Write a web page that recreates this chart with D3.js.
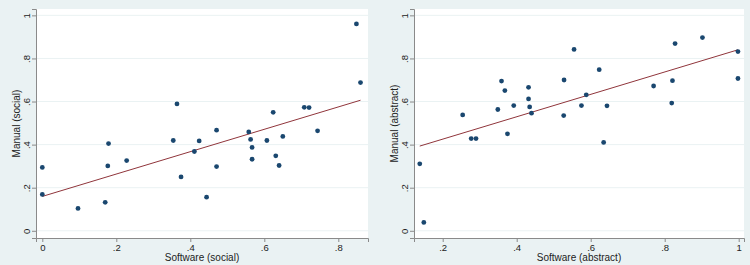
<!DOCTYPE html>
<html><head><meta charset="utf-8">
<script src="https://cdn.jsdelivr.net/npm/d3@7"></script>
<style>body{margin:0;background:#eaf2f3;}svg{display:block;font-family:"Liberation Sans",Arial,sans-serif;}</style>
</head><body><svg id="c" width="750" height="265"></svg>
<script>
const socialX = [0.849,0.860,0.364,0.624,0.708,0.721,0.471,0.558,0.744,0,0,0.0965,0.170,0.177,0.179,0.228,0.354,0.375,0.411,0.424,0.444,0.471,0.563,0.567,0.567,0.607,0.631,0.640,0.650];
const socialY = [0.960,0.688,0.589,0.550,0.573,0.572,0.467,0.459,0.464,0.294,0.169,0.104,0.132,0.301,0.405,0.326,0.419,0.250,0.368,0.417,0.156,0.298,0.424,0.387,0.332,0.419,0.348,0.303,0.438];
const abstractX = [0.254,0.359,0.368,0.349,0.392,0.432,0.432,0.435,0.440,0.528,0.527,0.555,0.575,0.588,0.623,0.644,0.770,0.821,0.819,0.828,0.902,0.998,0.998,0.138,0.149,0.277,0.290,0.375,0.635];
const abstractY = [0.538,0.695,0.651,0.563,0.581,0.666,0.612,0.575,0.546,0.700,0.535,0.842,0.581,0.631,0.748,0.580,0.672,0.697,0.593,0.869,0.897,0.832,0.707,0.311,0.039,0.428,0.428,0.450,0.410];
const yTicks = [0,0.2,0.4,0.6,0.8,1];
const yTickLabels = ["0",".2",".4",".6",".8","1"];
const socialXTicks = [0,0.2,0.4,0.6,0.8];
const socialXTickLabels = ["0",".2",".4",".6",".8"];
const abstractXTicks = [0.2,0.4,0.6,0.8,1];
const abstractXTickLabels = [".2",".4",".6",".8","1"];

const svg = d3.select("#c");
function panel(cfg){
  const g = svg.append("g");
  const x = d3.scaleLinear().domain(cfg.xdom).range([cfg.left, cfg.right]);
  const y = d3.scaleLinear().domain([-0.0335, 1.0295]).range([238, 9]);
  g.append("rect").attr("x",cfg.left).attr("y",9).attr("width",cfg.right-cfg.left).attr("height",229).attr("fill","#fff");
  g.selectAll(".grid").data(yTicks).join("line")
    .attr("x1",cfg.left).attr("x2",cfg.right).attr("y1",d=>y(d)).attr("y2",d=>y(d))
    .attr("stroke","#eaf2f3").attr("stroke-width",1);
  const fmtY = d=>yTickLabels[yTicks.indexOf(d)];
  const ya = g.append("g").attr("transform",`translate(${cfg.left},0)`)
    .call(d3.axisLeft(y).tickValues(yTicks).tickFormat(fmtY).tickSize(4).tickPadding(3));
  ya.select(".domain").attr("stroke","#8a8a8a");
  ya.selectAll(".tick line").attr("stroke","#8a8a8a");
  ya.selectAll(".tick text").attr("font-size","9.5px").attr("fill","#222")
    .attr("transform","rotate(-90)").attr("x",0).attr("y",-6).attr("dy","0").attr("text-anchor","middle")
    .attr("dominant-baseline","auto");
  const xa = g.append("g").attr("transform",`translate(0,238)`)
    .call(d3.axisBottom(x).tickValues(cfg.xticks).tickFormat(d=>cfg.xlabels[cfg.xticks.indexOf(d)]).tickSize(4).tickPadding(2));
  xa.select(".domain").attr("stroke","#8a8a8a");
  xa.selectAll(".tick line").attr("stroke","#8a8a8a");
  xa.selectAll(".tick text").attr("font-size","9.5px").attr("fill","#222");
  // fit line
  const xs = cfg.xs, ys = cfg.ys, n = xs.length;
  const mx = d3.mean(xs), my = d3.mean(ys);
  let sxy=0,sxx=0; for(let i=0;i<n;i++){sxy+=(xs[i]-mx)*(ys[i]-my);sxx+=(xs[i]-mx)**2;}
  const b = sxy/sxx, a = my-b*mx;
  const ex = d3.extent(xs);
  g.append("line").attr("x1",x(ex[0])).attr("x2",x(ex[1])).attr("y1",y(a+b*ex[0])).attr("y2",y(a+b*ex[1]))
    .attr("stroke","#90353b").attr("stroke-width",1);
  g.selectAll(".pt").data(d3.range(n)).join("circle")
    .attr("cx",i=>x(xs[i])).attr("cy",i=>y(ys[i])).attr("r",2.4).attr("fill","#1a476f");
  g.append("text").attr("x",(cfg.left+cfg.right)/2).attr("y",261).attr("text-anchor","middle")
    .attr("font-size","10px").attr("fill","#222").text(cfg.xtitle);
  g.append("text").attr("transform",`translate(${cfg.left-16},${(9+238)/2}) rotate(-90)`).attr("text-anchor","middle")
    .attr("font-size","10px").attr("fill","#222").text(cfg.ytitle);
}
panel({left:36,right:368,xdom:[(36-42.3)/370,(368-42.3)/370],xs:socialX,ys:socialY,xticks:socialXTicks,xlabels:socialXTickLabels,xtitle:"Software (social)",ytitle:"Manual (social)"});
panel({left:414,right:744,xdom:[(414-368.7)/370,(744-368.7)/370],xs:abstractX,ys:abstractY,xticks:abstractXTicks,xlabels:abstractXTickLabels,xtitle:"Software (abstract)",ytitle:"Manual (abstract)"});
</script></body></html>
